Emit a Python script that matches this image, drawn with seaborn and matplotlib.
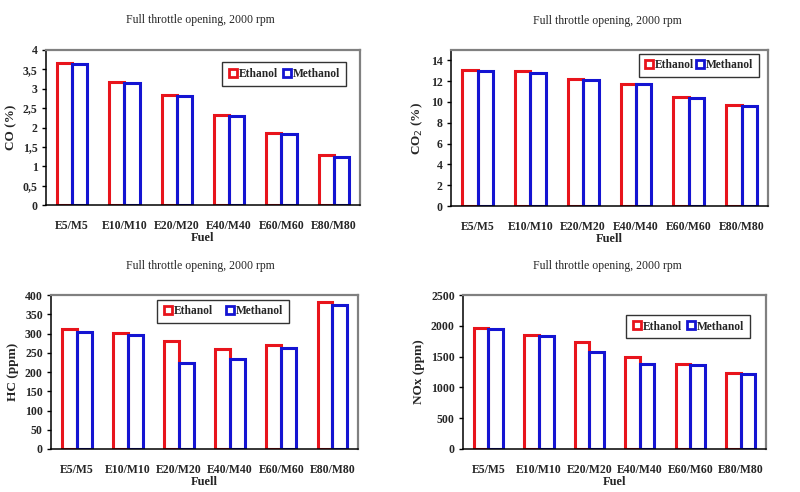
import matplotlib
matplotlib.use("Agg")
import matplotlib.pyplot as plt
import seaborn as sns
import pandas as pd
from matplotlib.lines import Line2D

fuels = ["E5/M5", "E10/M10", "E20/M20", "E40/M40", "E60/M60", "E80/M80"]
series = ["Ethanol", "Methanol"]

co_ethanol = [3.66, 3.17, 2.83, 2.33, 1.86, 1.28]
co_methanol = [3.63, 3.14, 2.81, 2.30, 1.83, 1.25]
co2_ethanol = [13.1, 12.95, 12.25, 11.7, 10.45, 9.75]
co2_methanol = [12.95, 12.8, 12.1, 11.7, 10.4, 9.6]
hc_ethanol = [311, 301, 281, 260, 270, 381]
hc_methanol = [304, 297, 224, 234, 262, 373]
nox_ethanol = [1965, 1855, 1730, 1500, 1375, 1235]
nox_methanol = [1955, 1840, 1580, 1385, 1360, 1210]

colors = {"Ethanol": "#e8141c", "Methanol": "#1414d2"}

sns.set_theme(style="white")
plt.rcParams["font.family"] = ["Liberation Serif", "DejaVu Serif"]

fig = plt.figure(figsize=(8, 4.92), dpi=100)

panels = [
    dict(e=co_ethanol, m=co_methanol, ylabel="CO (%)", xlabel="Fuel",
         ylim=(0, 4), ticks=[0, 0.5, 1, 1.5, 2, 2.5, 3, 3.5, 4],
         ticklabels=["0", "0,5", "1", "1,5", "2", "2,5", "3", "3,5", "4"],
         rect=[0.0575, 0.5833, 0.3925, 0.3151], title_xy=(200, 20),
         leg_bbox=(223, 62, 345, 86), colsp=0.4),
    dict(e=co2_ethanol, m=co2_methanol, ylabel="CO$_2$ (%)", xlabel="Fuell",
         ylim=(0, 15), ticks=[0, 2, 4, 6, 8, 10, 12, 14],
         ticklabels=["0", "2", "4", "6", "8", "10", "12", "14"],
         rect=[0.564, 0.5813, 0.396, 0.3171], title_xy=(607, 21),
         leg_bbox=(640, 54, 758, 77), colsp=0.15),
    dict(e=hc_ethanol, m=hc_methanol, ylabel="HC (ppm)", xlabel="Fuell",
         ylim=(0, 400), ticks=list(range(0, 401, 50)),
         ticklabels=[str(v) for v in range(0, 401, 50)],
         rect=[0.064, 0.0874, 0.3835, 0.313], title_xy=(200, 266),
         leg_bbox=(158, 300, 288, 323), colsp=1.1),
    dict(e=nox_ethanol, m=nox_methanol, ylabel="NOx (ppm)", xlabel="Fuel",
         ylim=(0, 2500), ticks=list(range(0, 2501, 500)),
         ticklabels=[str(v) for v in range(0, 2501, 500)],
         rect=[0.579, 0.0874, 0.3785, 0.313], title_xy=(607, 266),
         leg_bbox=(628, 312, 748, 341), colsp=0.4),
]

W, H = 800, 492

for p in panels:
    ax = fig.add_axes(p["rect"])
    df = pd.DataFrame({
        "Fuel": fuels * 2,
        "Series": ["Ethanol"] * len(fuels) + ["Methanol"] * len(fuels),
        "Value": p["e"] + p["m"],
    })
    sns.barplot(data=df, x="Fuel", y="Value", hue="Series", hue_order=series,
                palette=colors, fill=False, width=0.58, linewidth=2.2,
                gap=0, ax=ax, legend=False, errorbar=None)
    ax.set_ylim(*p["ylim"])
    ax.set_xlim(-0.5, 5.5)
    ax.set_yticks(p["ticks"])
    ax.set_yticklabels(p["ticklabels"], fontsize=8.5, fontweight="bold")
    ax.set_xticks(range(len(fuels)))
    ax.set_xticklabels(fuels, fontsize=8.5, fontweight="bold")
    ax.tick_params(axis="y", which="both", left=True, length=3, width=1,
                   pad=3, color="black")
    ax.tick_params(axis="x", bottom=False, pad=5)
    ax.set_ylabel(p["ylabel"], fontsize=9.5, fontweight="bold", labelpad=4)
    ax.set_xlabel(p["xlabel"], fontsize=9, fontweight="bold", labelpad=0)
    for side in ["left", "bottom"]:
        ax.spines[side].set_color("black")
        ax.spines[side].set_linewidth(1.1)
    for side in ["top", "right"]:
        ax.spines[side].set_color("#808080")
        ax.spines[side].set_linewidth(1.6)
    ax.grid(False)

    tx, ty = p["title_xy"]
    fig.text(tx / W, 1 - ty / H, "Full throttle opening, 2000 rpm",
             ha="center", va="center", fontsize=8.5)

    x0, y0, x1, y1 = p["leg_bbox"]
    handles = [Line2D([], [], marker="s", linestyle="none", markersize=6,
                      markerfacecolor="white", markeredgecolor=colors[s],
                      markeredgewidth=2.0, label=s) for s in series]
    leg = fig.legend(handles=handles, loc="center",
                     bbox_to_anchor=((x0 + x1) / 2 / W, 1 - (y0 + y1) / 2 / H),
                     ncol=2, frameon=True, fancybox=False, fontsize=8.3,
                     handlelength=0.8, handletextpad=0.1,
                     columnspacing=p["colsp"], borderpad=0.5)
    leg.get_frame().set_edgecolor("black")
    leg.get_frame().set_linewidth(1.0)
    for t in leg.get_texts():
        t.set_fontweight("bold")

fig.savefig("out.png", dpi=100)
